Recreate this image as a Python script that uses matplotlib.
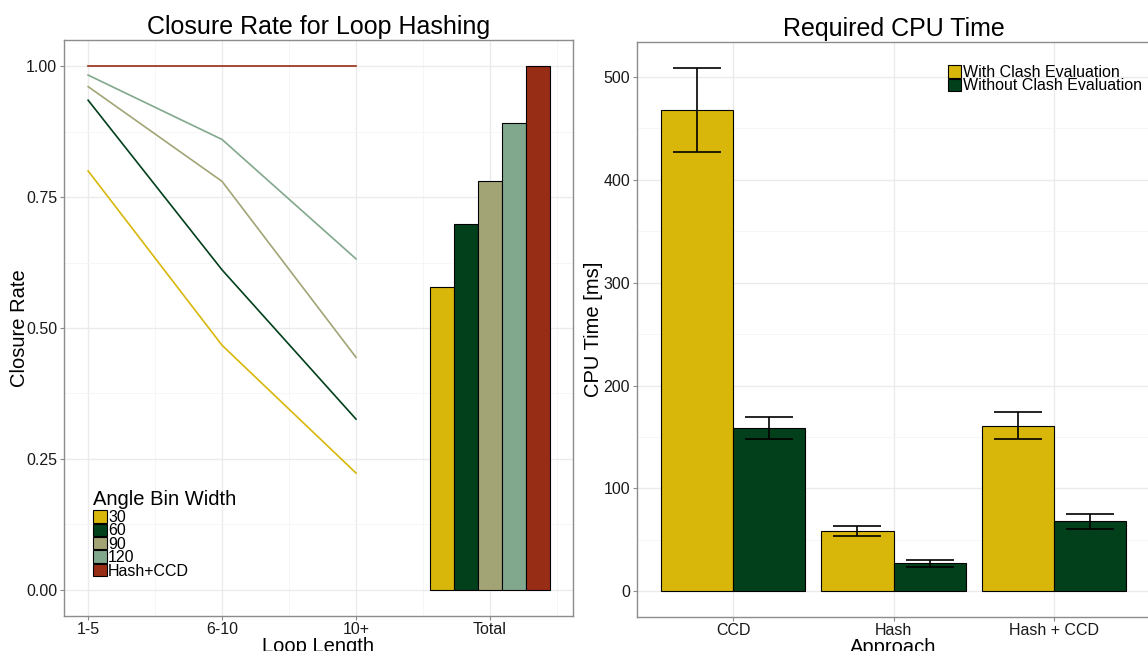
import numpy as np
import matplotlib
matplotlib.use('Agg')
import matplotlib.pyplot as plt
from matplotlib.patches import Patch

plt.rcParams['font.family'] = ['Liberation Sans', 'DejaVu Sans']

# left panel data
loop_lengths = ['1-5', '6-10', '10+']
bin_labels = ['30', '60', '90', '120', 'Hash+CCD']
rate_30 = [0.800, 0.467, 0.223]
rate_60 = [0.935, 0.611, 0.326]
rate_90 = [0.961, 0.780, 0.444]
rate_120 = [0.983, 0.860, 0.632]
rate_hash = [1.000, 1.000, 1.000]
total_rates = [0.578, 0.699, 0.780, 0.892, 1.000]

# right panel data
approaches = ['CCD', 'Hash', 'Hash + CCD']
cpu_with = [468, 58.6, 161]
cpu_with_lo = [427, 53.5, 148]
cpu_with_hi = [509, 63.8, 174.4]
cpu_without = [158.5, 27.2, 68]
cpu_without_lo = [148, 23.3, 60.6]
cpu_without_hi = [169, 30.8, 75.2]

colors = ['#D8B70A', '#02401B', '#A2A475', '#81A88D', '#972D15']

W, H = 1148, 651
fig = plt.figure(figsize=(W / 100, H / 100), dpi=100)

def px_axes(x0, y0, x1, y1):
    return fig.add_axes([x0 / W, 1 - y1 / H, (x1 - x0) / W, (y1 - y0) / H])

def style(ax):
    for s in ax.spines.values():
        s.set_color('#8c8c8c')
        s.set_linewidth(1.0)
    ax.set_axisbelow(True)
    ax.grid(which='major', color='#ebebeb', linewidth=1.0)
    ax.grid(which='minor', color='#f5f5f5', linewidth=0.6)
    ax.tick_params(which='major', length=3, color='#8c8c8c', labelsize=11.5,
                   labelcolor='#1a1a1a', pad=2)
    ax.tick_params(axis='x', pad=1)
    ax.tick_params(which='minor', length=0)

leg_kw = dict(frameon=False, fontsize=11.5, handlelength=0.85, handleheight=0.8,
              handletextpad=0.1, labelspacing=-0.1, borderaxespad=0,
              borderpad=0)

# ---- left: closure rate
ax1 = px_axes(64, 40, 573, 616)
style(ax1)
xs = np.arange(1, len(loop_lengths) + 1)
for rates, c in zip([rate_30, rate_60, rate_90, rate_120, rate_hash], colors):
    ax1.plot(xs, rates, color=c, linewidth=1.2)
bw = 0.9 / len(total_rates)
tx = len(loop_lengths) + 1
for i, (v, c) in enumerate(zip(total_rates, colors)):
    ax1.bar(tx - 0.45 + bw * (i + 0.5), v, width=bw, color=c,
            edgecolor='black', linewidth=0.8)
ax1.set_xlim(0.82, 4.62)
ax1.set_ylim(-0.05, 1.05)
ax1.set_xticks(list(xs) + [tx])
ax1.set_xticklabels(loop_lengths + ['Total'])
ax1.set_xticks([1.5, 2.5, 3.5, 4.5], minor=True)
ax1.set_yticks([0, 0.25, 0.5, 0.75, 1.0])
ax1.set_yticklabels(['0.00', '0.25', '0.50', '0.75', '1.00'])
ax1.set_yticks([0.125, 0.375, 0.625, 0.875], minor=True)
ax1.set_xlabel('Loop Length', fontsize=14.5, labelpad=0)
ax1.set_ylabel('Closure Rate', fontsize=14.5, labelpad=-2)
ax1.set_title('Closure Rate for Loop Hashing', fontsize=18, pad=4)
handles = [Patch(facecolor=c, edgecolor='black', linewidth=0.8) for c in colors]
leg1 = ax1.legend(handles, bin_labels, title='Angle Bin Width', loc='lower left',
                  bbox_to_anchor=(0.057, 0.065), title_fontsize=14.5, **leg_kw)
leg1._legend_box.align = 'left'
leg1._legend_box.sep = 1

# ---- right: CPU time
ax2 = px_axes(637, 42, 1150, 617)
style(ax2)
ax_x = np.arange(1, len(approaches) + 1)
ax2.bar(ax_x - 0.225, cpu_with, width=0.45, color=colors[0], edgecolor='black',
        linewidth=0.8, label='With Clash Evaluation')
ax2.bar(ax_x + 0.225, cpu_without, width=0.45, color=colors[1], edgecolor='black',
        linewidth=0.8, label='Without Clash Evaluation')
for off, v, lo, hi in [(-0.225, cpu_with, cpu_with_lo, cpu_with_hi),
                       (0.225, cpu_without, cpu_without_lo, cpu_without_hi)]:
    v = np.array(v)
    err = [v - np.array(lo), np.array(hi) - v]
    ax2.errorbar(ax_x + off, v, yerr=err, fmt='none', ecolor='black',
                 elinewidth=1.2, capsize=17, capthick=1.2)
ax2.set_xlim(0.4, 3.6)
ax2.set_ylim(-25, 534)
ax2.set_xticks(ax_x)
ax2.set_xticklabels(approaches)
ax2.set_yticks([0, 100, 200, 300, 400, 500])
ax2.set_yticks([50, 150, 250, 350, 450], minor=True)
ax2.set_xlabel('Approach', fontsize=14.5, labelpad=0)
ax2.set_ylabel('CPU Time [ms]', fontsize=14.5, labelpad=0)
ax2.set_title('Required CPU Time', fontsize=18, pad=4)
leg2 = ax2.legend(loc='upper left', bbox_to_anchor=(0.606, 0.96), **leg_kw)

fig.savefig('out.png', dpi=100)
